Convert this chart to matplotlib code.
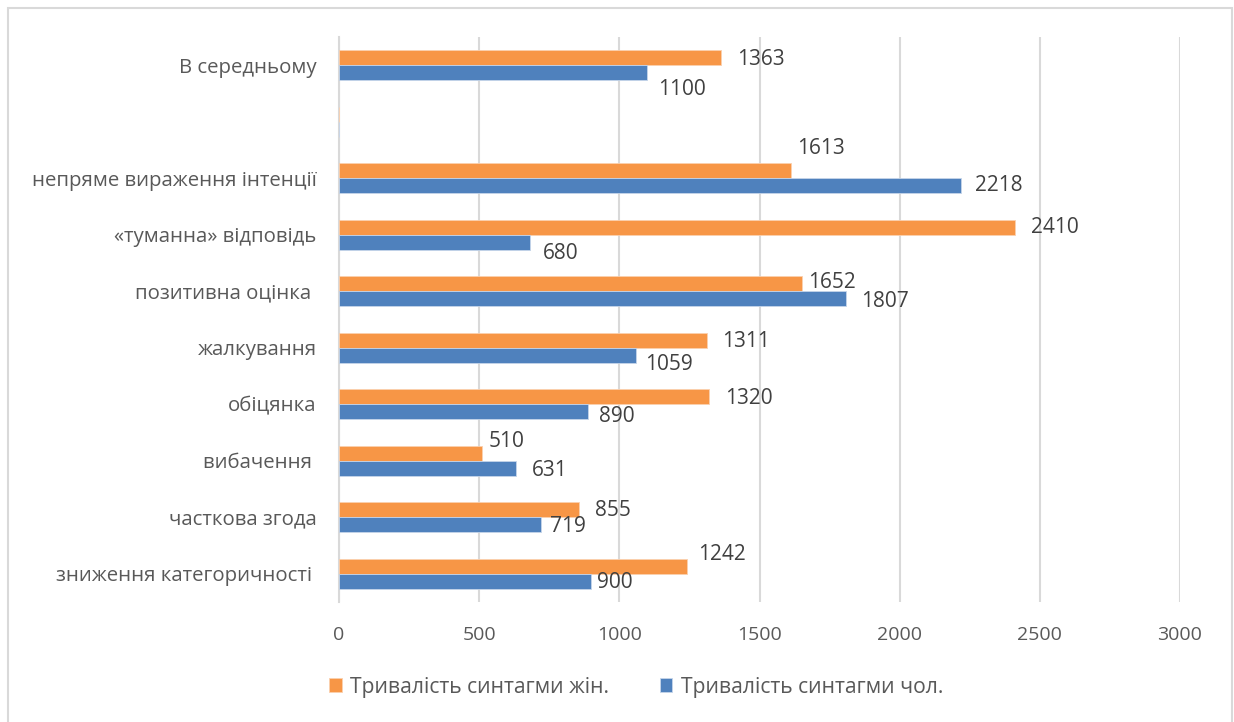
import numpy as np
import matplotlib
matplotlib.use("Agg")
import matplotlib.pyplot as plt
from matplotlib.patches import Rectangle

# categories listed bottom -> top; the empty string leaves a gap row
categories = [
    "зниження категоричності ",
    "часткова згода",
    "вибачення ",
    "обіцянка",
    "жалкування",
    "позитивна оцінка ",
    "«туманна» відповідь",
    "непряме вираження інтенції",
    "",
    "В середньому",
]
female = [1242, 855, 510, 1320, 1311, 1652, 2410, 1613, None, 1363]
male = [900, 719, 631, 890, 1059, 1807, 680, 2218, None, 1100]

series_names = ["Тривалість синтагми жін.", "Тривалість синтагми чол."]
x_ticks = [0, 500, 1000, 1500, 2000, 2500, 3000]

# value-label nudges in pixels (dx from bar end, dy downward from bar centre)
female_dx = [11, 16, 7, 16, 16, 6, 16, 6, 0, 16]
female_dy = [-12, 1, -12, 2, 1, -1, 0, -22, 0, 2]
male_dx = [6, 9, 16, 11, 9, 16, 13, 14, 0, 11]
male_dy = [1, 2, 2, 5, 9, 3, 11, 0, 0, 17]

ORANGE = "#F79646"
BLUE = "#4F81BD"
GREY_TXT = "#595959"
GRID = "#D9D9D9"

plt.rcParams["font.family"] = ["Open Sans", "DejaVu Sans"]

fig = plt.figure(figsize=(12.34, 7.22), dpi=100)
W, H = 1234, 722
ax = fig.add_axes([339 / W, 1 - 602 / H, (1180 - 339) / W, (602 - 37) / H])

# outer chart frame
fig.patches.append(Rectangle((7.5 / W, -0.05), (1232 - 7.5) / W, 1.05 - 7.5 / H,
                             transform=fig.transFigure, fill=False,
                             edgecolor=GRID, linewidth=1.5))

y = np.arange(len(categories))
h = 0.265
f_vals = [v if v is not None else 0 for v in female]
m_vals = [v if v is not None else 0 for v in male]
bars_f = ax.barh(y + h / 2, f_vals, height=h, color=ORANGE, edgecolor="#FBD0AE",
                 linewidth=0.6, label=series_names[0], zorder=3)
bars_m = ax.barh(y - h / 2, m_vals, height=h, color=BLUE, edgecolor="#C6D5E9",
                 linewidth=0.6, label=series_names[1], zorder=3)

for i in range(len(categories)):
    if female[i] is not None:
        ax.annotate(str(female[i]), (female[i], y[i] + h / 2),
                    xytext=(female_dx[i], -female_dy[i]), textcoords="offset pixels",
                    ha="left", va="center", fontsize=15, color="#404040")
    if male[i] is not None:
        ax.annotate(str(male[i]), (male[i], y[i] - h / 2),
                    xytext=(male_dx[i], -male_dy[i]), textcoords="offset pixels",
                    ha="left", va="center", fontsize=15, color="#404040")

ax.set_xlim(0, 3000)
ax.set_ylim(-0.5, len(categories) - 0.5)
ax.set_xticks(x_ticks)
ax.set_xticklabels([str(t) for t in x_ticks])
ax.set_yticks(y)
ax.set_yticklabels(categories)
ax.tick_params(axis="x", length=0, colors=GREY_TXT, labelsize=14, pad=17)
ax.tick_params(axis="y", length=0, colors=GREY_TXT, labelsize=14.7, pad=16)

ax.grid(axis="x", color=GRID, linewidth=1.5, zorder=0)
ax.set_axisbelow(True)
for side in ["top", "right", "bottom"]:
    ax.spines[side].set_visible(False)
ax.spines["left"].set_color(GRID)
ax.spines["left"].set_linewidth(1.5)

leg = fig.legend(handles=[bars_f, bars_m], labels=series_names,
                 loc="center", bbox_to_anchor=(636 / W, 1 - 687 / H), ncol=2,
                 frameon=False, fontsize=15.2, handlelength=0.6, handleheight=0.6,
                 handletextpad=0.4, columnspacing=2.4)
for t in leg.get_texts():
    t.set_color(GREY_TXT)

fig.savefig("out.png", dpi=100, facecolor="white")
